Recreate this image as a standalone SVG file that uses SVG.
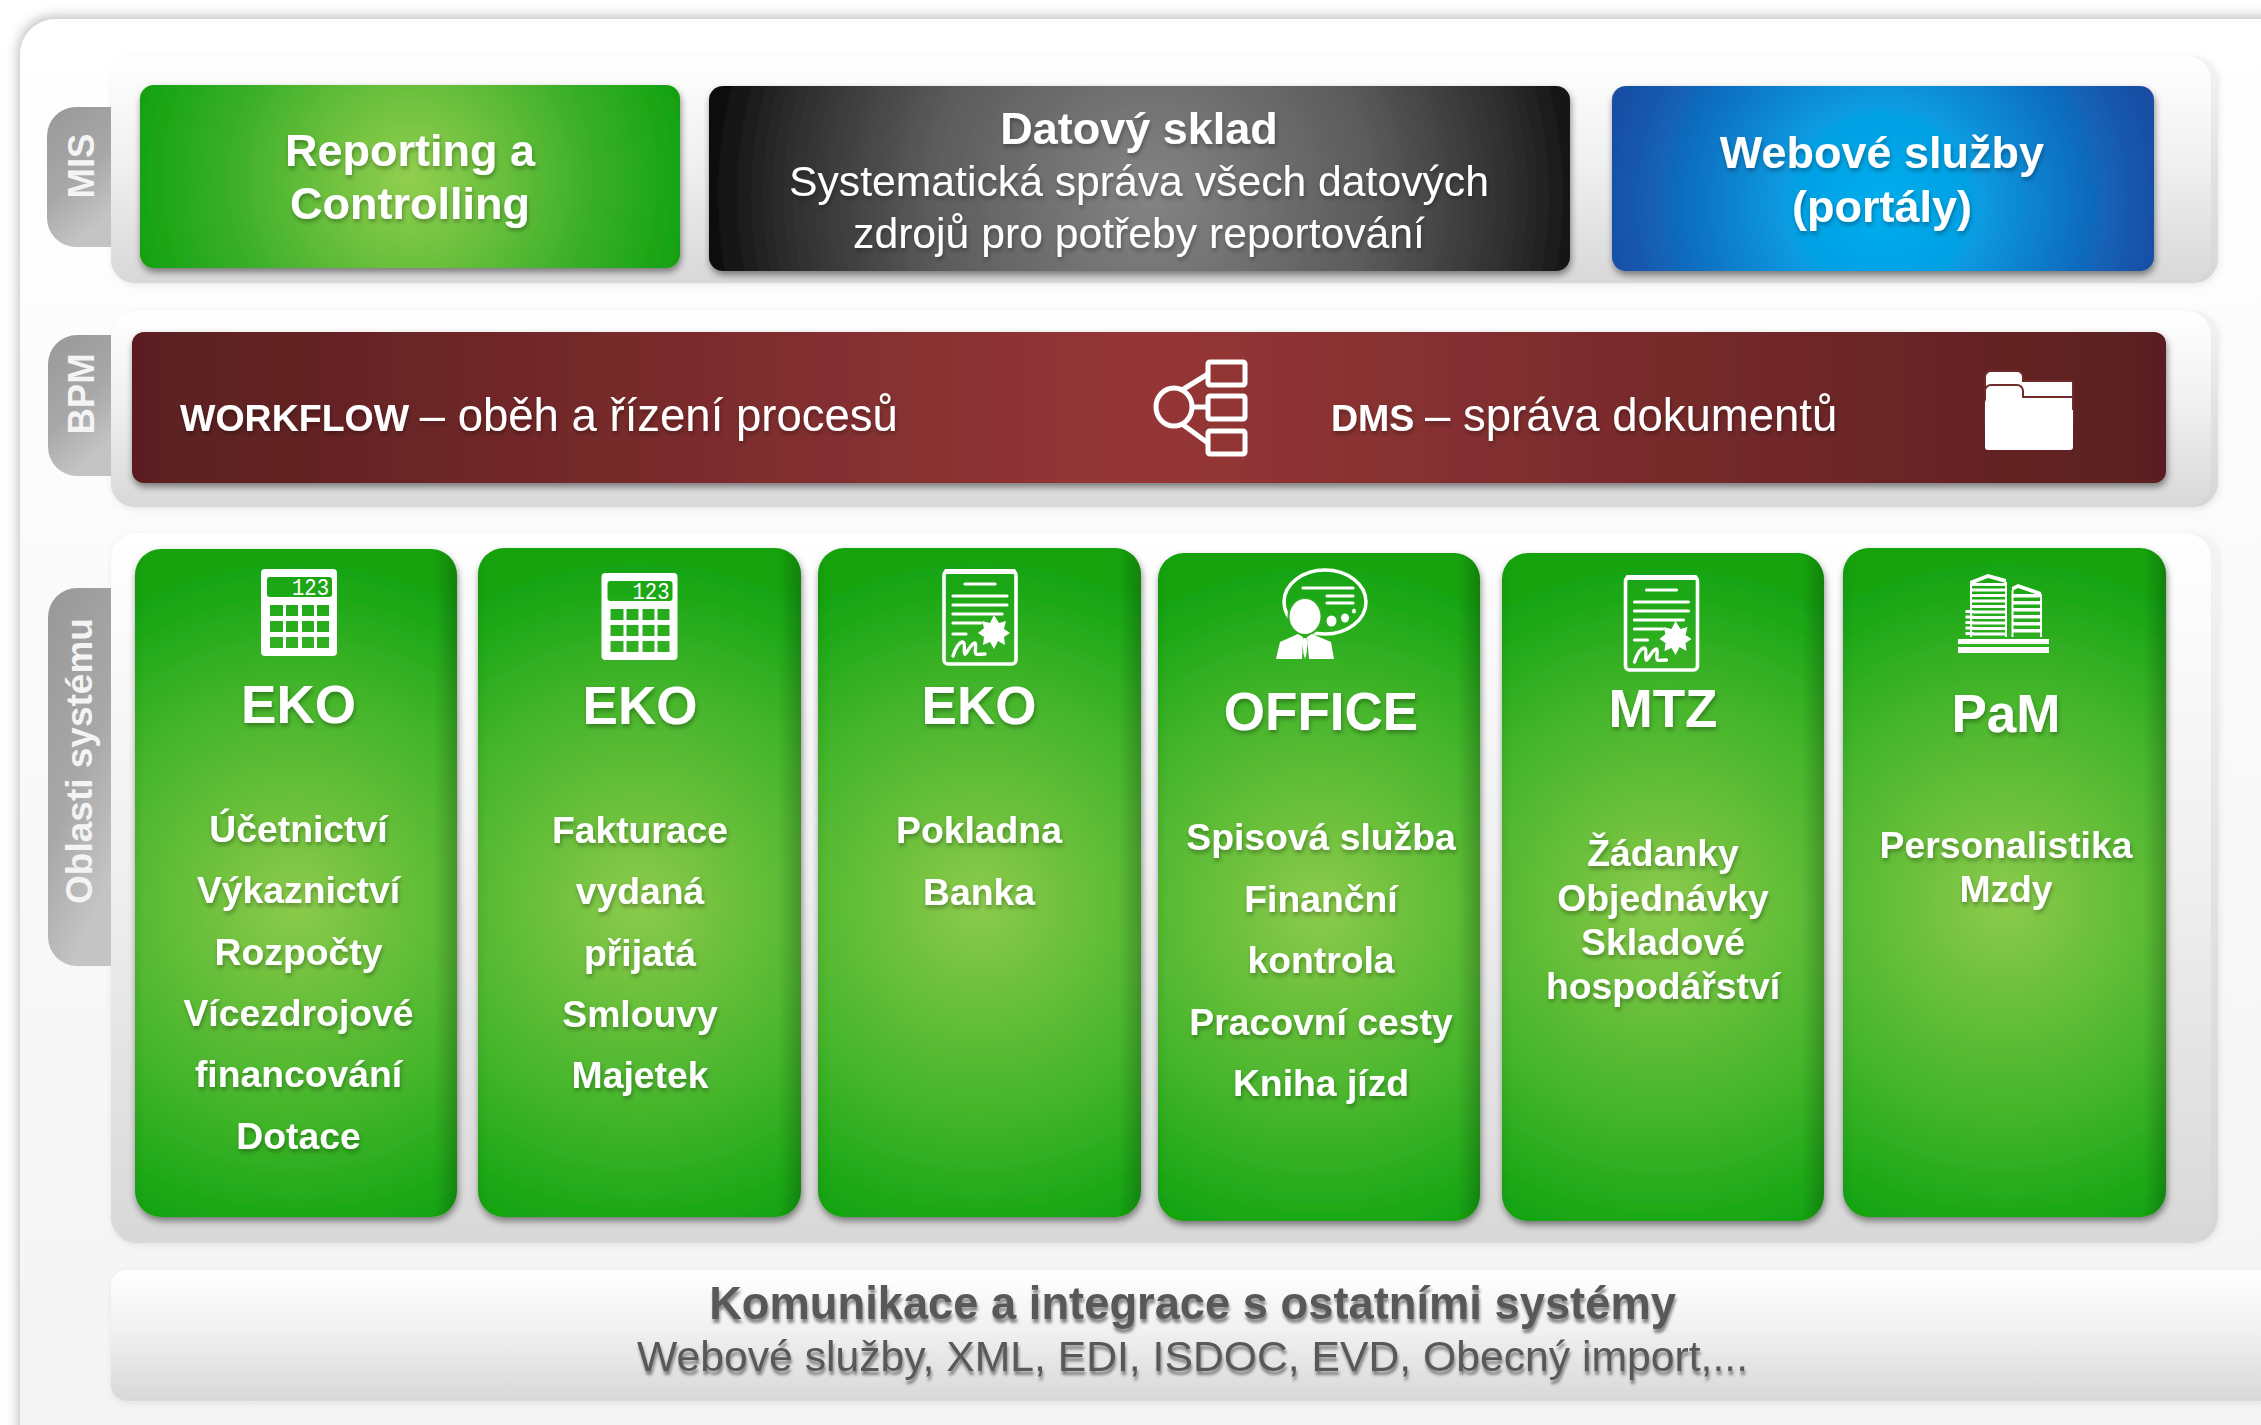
<svg xmlns="http://www.w3.org/2000/svg" width="2261" height="1425" viewBox="0 0 2261 1425">
<defs>
<style>
text{font-family:"Liberation Sans",Arial,sans-serif}
.b{font-weight:bold}
.w{fill:#fff}
.m{text-anchor:middle}
.t45{font-size:45px}
.t43{font-size:42.700px}
.h{font-size:53px;font-weight:bold;fill:#fff;text-anchor:middle}
.l{font-size:37.300px;font-weight:bold;fill:#fff;text-anchor:middle}
.tab{font-size:36.500px;font-weight:bold;fill:#f4f4f4;text-anchor:middle}
.lcd{font-family:"Liberation Mono",monospace;font-size:24px;fill:#fff}
.ico{fill:#fff}
.lin{fill:none;stroke:#fff;stroke-width:3.200;stroke-linecap:round}
.net{fill:none;stroke:#fff;stroke-width:5}
.gap{fill:#fff;stroke:#6f2a2a;stroke-width:2}
.edge{fill:url(#gEdge)}
</style>
<linearGradient id="gOuter" x1="0" y1="0" x2="0" y2="1"><stop offset="0" stop-color="#fff"/><stop offset="1" stop-color="#f3f3f3"/></linearGradient>
<linearGradient id="gPanel" x1="0" y1="0" x2="0" y2="1"><stop offset="0" stop-color="#fff"/><stop offset=".45" stop-color="#f1f1f1"/><stop offset="1" stop-color="#d8d8d8"/></linearGradient>
<linearGradient id="gBack" x1="0" y1="0" x2="0" y2="1"><stop offset="0" stop-color="#f4f4f4"/><stop offset=".5" stop-color="#e2e2e2"/><stop offset="1" stop-color="#d6d6d6"/></linearGradient>
<linearGradient id="gTab" x1="0" y1="0" x2=".4" y2="1"><stop offset="0" stop-color="#989898"/><stop offset=".6" stop-color="#a8a8a8"/><stop offset="1" stop-color="#c4c4c4"/></linearGradient>
<radialGradient id="gGreen" gradientUnits="userSpaceOnUse" cx="410" cy="178" r="285"><stop offset="0" stop-color="#92cf50"/><stop offset=".33" stop-color="#68bf3c"/><stop offset=".65" stop-color="#38ae28"/><stop offset=".95" stop-color="#16a412"/><stop offset="1" stop-color="#109c10"/></radialGradient>
<radialGradient id="gCard" cx="0" cy="0" r="1" gradientTransform="translate(.5 .53) scale(1.087 .524)"><stop offset="0" stop-color="#8ccb4c"/><stop offset=".3" stop-color="#68bf3a"/><stop offset=".6" stop-color="#44b52b"/><stop offset=".9" stop-color="#1ca816"/><stop offset="1" stop-color="#15a20f"/></radialGradient>
<linearGradient id="gEdge" x1="0" y1="0" x2="1" y2="0"><stop offset="0" stop-color="#000" stop-opacity=".05"/><stop offset=".03" stop-color="#000" stop-opacity="0"/><stop offset=".93" stop-color="#000" stop-opacity="0"/><stop offset="1" stop-color="#000" stop-opacity=".2"/></linearGradient>
<radialGradient id="gBlack" gradientUnits="userSpaceOnUse" cx="1150" cy="195" r="440"><stop offset="0" stop-color="#848484"/><stop offset=".5" stop-color="#5c5c5c"/><stop offset=".85" stop-color="#2a2a2a"/><stop offset="1" stop-color="#0e0e0e"/></radialGradient>
<radialGradient id="gBlue" gradientUnits="userSpaceOnUse" cx="1882" cy="203" r="290"><stop offset="0" stop-color="#02aeee"/><stop offset=".3" stop-color="#06a0e4"/><stop offset=".6" stop-color="#0d78c8"/><stop offset=".9" stop-color="#1653aa"/><stop offset="1" stop-color="#1a4da2"/></radialGradient>
<linearGradient id="gRed" x1="0" y1="0" x2="1" y2="0"><stop offset="0" stop-color="#5a1f20"/><stop offset=".5" stop-color="#963637"/><stop offset="1" stop-color="#5a1f20"/></linearGradient>
<filter id="sOuter" x="-5%" y="-5%" width="110%" height="110%"><feDropShadow dx="-2" dy="-3" stdDeviation="6" flood-color="#000" flood-opacity=".25"/></filter>
<filter id="sPanel" x="-3%" y="-10%" width="106%" height="125%"><feDropShadow dx="1" dy="2" stdDeviation="3" flood-color="#000" flood-opacity=".08"/></filter>
<filter id="sBox" x="-5%" y="-10%" width="110%" height="125%"><feDropShadow dx="1" dy="4" stdDeviation="3.500" flood-color="#000" flood-opacity=".45"/></filter>
<filter id="sText" x="-5%" y="-20%" width="110%" height="150%"><feDropShadow dx="1" dy="3" stdDeviation="2" flood-color="#000" flood-opacity=".3"/></filter>
<filter id="sDark" x="-5%" y="-20%" width="110%" height="160%"><feDropShadow dx="1" dy="4" stdDeviation="1.500" flood-color="#000" flood-opacity=".45"/></filter>
<g id="calc">
<path class="ico" fill-rule="evenodd" d="M265 569h68a4 4 0 0 1 4 4v79a4 4 0 0 1-4 4h-68a4 4 0 0 1-4-4v-79a4 4 0 0 1 4-4z M270 577h59a3 3 0 0 1 3 3v14a3 3 0 0 1-3 3h-59a3 3 0 0 1-3-3v-14a3 3 0 0 1 3-3z M270 605h13v11h-13z M286 605h12v11h-12z M302 605h12v11h-12z M317 605h12v11h-12z M270 621h13v11h-13z M286 621h12v11h-12z M302 621h12v11h-12z M317 621h12v11h-12z M270 637h13v11h-13z M286 637h12v11h-12z M302 637h12v11h-12z M317 637h12v11h-12z"/>
</g>
<g id="doc">
<rect x="944" y="571" width="72" height="93" rx="4" fill="none" stroke="#fff" stroke-width="3.600"/>
<rect x="944" y="569" width="72" height="5" rx="2" class="ico"/>
<path class="lin" d="M965 584h30" stroke-width="4.500"/>
<path class="lin" d="M953 596h54M953 605h54M953 614h49M953 623h28M953 634h13"/>
<polygon class="ico" transform="translate(994 632)" points="0,-17 5,-9 12,-11 10,-3 16,1 10,5 11,13 4,9 0,17 -4,10 -11,13 -10,5 -16,1 -10,-4 -12,-11 -4,-9"/>
<path fill="none" stroke="#fff" stroke-width="3.400" stroke-linecap="round" stroke-linejoin="round" d="M953 656c2-7 6-14 10-14 3 1 0 10 2 12 3-2 6-11 10-11 2 2-1 9 1 11 2 1 5 0 9 0"/>
</g>
</defs>

<rect width="2261" height="1425" fill="#fff"/>
<rect id="outer" x="20" y="19" width="2400" height="1500" rx="36" fill="url(#gOuter)" filter="url(#sOuter)"/>

<g id="panels">
<rect x="111" y="56" width="2107" height="227" rx="24" fill="url(#gBack)" filter="url(#sPanel)"/>
<rect x="111" y="56" width="2100" height="227" rx="24" fill="url(#gPanel)"/>
<rect x="111" y="311" width="2107" height="196" rx="24" fill="url(#gBack)" filter="url(#sPanel)"/>
<rect x="111" y="311" width="2100" height="196" rx="24" fill="url(#gPanel)"/>
<rect x="111" y="533" width="2107" height="710" rx="26" fill="url(#gBack)" filter="url(#sPanel)"/>
<rect x="111" y="533" width="2100" height="710" rx="26" fill="url(#gPanel)"/>
</g>

<g id="tab-mis">
<path d="M111 107H76a29 29 0 0 0-29 29v82a29 29 0 0 0 29 29h35z" fill="url(#gTab)"/>
<text class="tab" transform="translate(94 166) rotate(-90)">MIS</text>
</g>
<g id="tab-bpm">
<path d="M111 335H77a29 29 0 0 0-29 29v83a29 29 0 0 0 29 29h34z" fill="url(#gTab)"/>
<text class="tab" transform="translate(94 394) rotate(-90)">BPM</text>
</g>
<g id="tab-oblasti">
<path d="M111 588H77a29 29 0 0 0-29 29v320a29 29 0 0 0 29 29h34z" fill="url(#gTab)"/>
<text class="tab" style="font-size:37px" transform="translate(92 761) rotate(-90)">Oblasti systému</text>
</g>

<g id="reporting">
<rect x="140" y="85" width="540" height="183" rx="14" fill="url(#gGreen)" filter="url(#sBox)"/>
<text class="w b m t45" filter="url(#sText)" x="410" y="166">Reporting a</text>
<text class="w b m t45" filter="url(#sText)" x="410" y="219">Controlling</text>
</g>
<g id="datovy-sklad">
<rect x="709" y="86" width="861" height="185" rx="14" fill="url(#gBlack)" filter="url(#sBox)"/>
<text class="w b m t45" filter="url(#sText)" x="1139" y="144">Datový sklad</text>
<text class="w m t43" filter="url(#sText)" x="1139" y="196">Systematická správa všech datových</text>
<text class="w m t43" filter="url(#sText)" x="1139" y="248">zdrojů pro potřeby reportování</text>
</g>
<g id="webove-sluzby">
<rect x="1612" y="86" width="542" height="185" rx="14" fill="url(#gBlue)" filter="url(#sBox)"/>
<text class="w b m t45" filter="url(#sText)" x="1882" y="168">Webové služby</text>
<text class="w b m t45" filter="url(#sText)" x="1882" y="222">(portály)</text>
</g>

<g id="bpm">
<rect x="132" y="332" width="2034" height="151" rx="12" fill="url(#gRed)" filter="url(#sBox)"/>
<text class="w" filter="url(#sText)" x="180" y="431" font-size="45.500"><tspan class="b" font-size="37.500">WORKFLOW</tspan><tspan dx="-2"> – oběh a řízení procesů</tspan></text>
<text class="w" filter="url(#sText)" x="1331" y="431" font-size="45.500"><tspan class="b" font-size="37.500">DMS</tspan><tspan dx="-2"> – správa dokumentů</tspan></text>
<g id="icon-network" class="net">
<ellipse cx="1174" cy="407" rx="18" ry="19"/>
<rect x="1208" y="362" width="37" height="23" rx="2"/>
<rect x="1208" y="396" width="37" height="23" rx="2"/>
<rect x="1208" y="431" width="37" height="23" rx="2"/>
<path d="M1182 390L1208 374M1192 407H1208M1182 424L1208 443"/>
</g>
<g id="icon-folder">
<path class="gap" d="M1985 377a6 6 0 0 1 6-6h26a6 6 0 0 1 6 6v4h50v30h-88z"/>
<path class="gap" d="M1985 391a6 6 0 0 1 6-6h26a6 6 0 0 1 6 6v6h50v30h-88z"/>
<path class="ico" d="M1985 403a6 6 0 0 1 6-6h26a6 6 0 0 1 6 6v7h50v37a3 3 0 0 1-3 3h-82a3 3 0 0 1-3-3z"/>
</g>
</g>

<g id="card-eko-1">
<rect x="135" y="549" width="322" height="668" rx="26" fill="url(#gCard)" filter="url(#sBox)"/>
<rect x="135" y="549" width="322" height="668" rx="26" class="edge"/>
<use href="#calc"/>
<text class="lcd" x="292" y="595" textLength="37" lengthAdjust="spacingAndGlyphs">123</text>
<text class="h" filter="url(#sText)" x="298.500" y="723">EKO</text>
<text class="l" filter="url(#sText)" x="298.500" y="842">Účetnictví</text>
<text class="l" filter="url(#sText)" x="298.500" y="903">Výkaznictví</text>
<text class="l" filter="url(#sText)" x="298.500" y="965">Rozpočty</text>
<text class="l" filter="url(#sText)" x="298.500" y="1026">Vícezdrojové</text>
<text class="l" filter="url(#sText)" x="298.500" y="1087">financování</text>
<text class="l" filter="url(#sText)" x="298.500" y="1149">Dotace</text>
</g>
<g id="card-eko-2">
<rect x="478" y="548" width="323" height="669" rx="26" fill="url(#gCard)" filter="url(#sBox)"/>
<rect x="478" y="548" width="323" height="669" rx="26" class="edge"/>
<use href="#calc" x="340.500" y="4"/>
<text class="lcd" x="632.500" y="599" textLength="37" lengthAdjust="spacingAndGlyphs">123</text>
<text class="h" filter="url(#sText)" x="640" y="724">EKO</text>
<text class="l" filter="url(#sText)" x="640" y="843">Fakturace</text>
<text class="l" filter="url(#sText)" x="640" y="904">vydaná</text>
<text class="l" filter="url(#sText)" x="640" y="966">přijatá</text>
<text class="l" filter="url(#sText)" x="640" y="1027">Smlouvy</text>
<text class="l" filter="url(#sText)" x="640" y="1088">Majetek</text>
</g>
<g id="card-eko-3">
<rect x="818" y="548" width="323" height="669" rx="26" fill="url(#gCard)" filter="url(#sBox)"/>
<rect x="818" y="548" width="323" height="669" rx="26" class="edge"/>
<use href="#doc"/>
<text class="h" filter="url(#sText)" x="979" y="724">EKO</text>
<text class="l" filter="url(#sText)" x="979" y="843">Pokladna</text>
<text class="l" filter="url(#sText)" x="979" y="905">Banka</text>
</g>
<g id="card-office">
<rect x="1158" y="553" width="322" height="668" rx="26" fill="url(#gCard)" filter="url(#sBox)"/>
<rect x="1158" y="553" width="322" height="668" rx="26" class="edge"/>
<g id="icon-person">
<ellipse cx="1325" cy="602" rx="41" ry="32" fill="none" stroke="#fff" stroke-width="3.500"/>
<path class="lin" stroke-linecap="butt" d="M1303 588h50M1327 596h26M1327 603h26"/>
<ellipse cx="1331.500" cy="621" rx="5" ry="5.500" class="ico"/>
<ellipse cx="1345" cy="618" rx="4" ry="4.500" class="ico"/>
<ellipse cx="1354" cy="611" rx="2" ry="2.500" class="ico"/>
<ellipse cx="1305" cy="616.500" rx="15.500" ry="17.500" class="ico" stroke="#2fab22" stroke-width="4" paint-order="stroke"/>
<path class="ico" d="M1276 659L1280 642L1298 634L1303 637L1302 659zM1334 659L1331 642L1312 634L1307 637L1309 659zM1303.500 638h3l1 5-1 11-1.500 5-1.500-5-1-11z"/>
</g>
<text class="h" filter="url(#sText)" x="1321" y="730">OFFICE</text>
<text class="l" filter="url(#sText)" x="1321" y="850">Spisová služba</text>
<text class="l" filter="url(#sText)" x="1321" y="912">Finanční</text>
<text class="l" filter="url(#sText)" x="1321" y="973">kontrola</text>
<text class="l" filter="url(#sText)" x="1321" y="1035">Pracovní cesty</text>
<text class="l" filter="url(#sText)" x="1321" y="1096">Kniha jízd</text>
</g>
<g id="card-mtz">
<rect x="1502" y="553" width="322" height="668" rx="26" fill="url(#gCard)" filter="url(#sBox)"/>
<rect x="1502" y="553" width="322" height="668" rx="26" class="edge"/>
<use href="#doc" x="681.500" y="6"/>
<text class="h" filter="url(#sText)" x="1663" y="727">MTZ</text>
<text class="l" filter="url(#sText)" x="1663" y="866">Žádanky</text>
<text class="l" filter="url(#sText)" x="1663" y="911">Objednávky</text>
<text class="l" filter="url(#sText)" x="1663" y="955">Skladové</text>
<text class="l" filter="url(#sText)" x="1663" y="999">hospodářství</text>
</g>
<g id="card-pam">
<rect x="1843" y="548" width="323" height="669" rx="26" fill="url(#gCard)" filter="url(#sBox)"/>
<rect x="1843" y="548" width="323" height="669" rx="26" class="edge"/>
<g id="icon-building">
<path class="ico" d="M1970 581L1988 574L2006 579V583L1988 578L1970 585zM2012 587L2018 584L2041 592V596L2018 588L2012 591z"/>
<path fill="none" stroke="#fff" stroke-width="34" stroke-dasharray="3 2.500" d="M1988 583V636"/>
<path fill="none" stroke="#fff" stroke-width="28" stroke-dasharray="3.500 3.500" d="M2026.500 594V636"/>
<path fill="none" stroke="#fff" stroke-width="2" d="M1971 584V637M2006 582V637M2012.500 590V637M2041 594V637"/>
<path fill="none" stroke="#fff" stroke-width="8" stroke-dasharray="3 2.500" d="M1969.500 610V636"/>
<rect x="1958" y="639" width="91" height="5" class="ico"/>
<rect x="1958" y="647" width="91" height="6" class="ico"/>
</g>
<text class="h" filter="url(#sText)" x="2006" y="732">PaM</text>
<text class="l" filter="url(#sText)" x="2006" y="858">Personalistika</text>
<text class="l" filter="url(#sText)" x="2006" y="902">Mzdy</text>
</g>

<g id="komunikace">
<rect x="111" y="1270" width="2300" height="131" rx="16" fill="url(#gPanel)" filter="url(#sPanel)"/>
<text class="b m" fill="#595959" filter="url(#sDark)" x="1192.500" y="1319" font-size="45.300">Komunikace a integrace s ostatními systémy</text>
<text class="m" fill="#595959" filter="url(#sDark)" x="1192.500" y="1371" font-size="42.700">Webové služby, XML, EDI, ISDOC, EVD, Obecný import,...</text>
</g>
</svg>
